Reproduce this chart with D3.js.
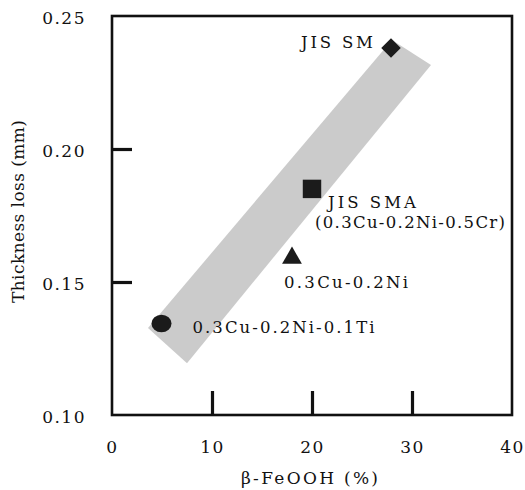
<!DOCTYPE html>
<html lang="en">
<head>
<meta charset="UTF-8" />
<title>Thickness loss vs beta-FeOOH</title>
<script src="https://d3js.org/d3.v7.min.js"></script>
<style>
  body { margin: 0; background: #fff; }
  text { font-family: "DejaVu Serif", serif; fill: #111; }
</style>
</head>
<body>
<div id="chart"></div>
<script>
// values
const steels = ["JIS SM", "JIS SMA", "0.3Cu-0.2Ni", "0.3Cu-0.2Ni-0.1Ti"];
const feooh = [27.9, 20.0, 18.0, 4.95];          // beta-FeOOH (%)
const loss = [0.238, 0.185, 0.159, 0.1344];      // thickness loss (mm)
const symbols = ["diamond", "square", "triangle", "circle"];

// grey band (corners, data units)
const bandX = [3.6, 28.0, 31.9, 7.5];
const bandY = [0.1327, 0.241, 0.2316, 0.1195];

const xLabels = [0, 10, 20, 30, 40];
const xMarks = [10, 20, 30];
const yLabels = [0.10, 0.15, 0.20, 0.25];
const yMarks = [0.15, 0.20];

const W = 525, H = 490;
const svg = d3.select("#chart").append("svg")
  .attr("width", W).attr("height", H);

const x = d3.scaleLinear().domain([0, 40]).range([112, 512]);
const y = d3.scaleLinear().domain([0.10, 0.25]).range([415, 16]);

// band
svg.append("path")
  .datum(bandX.map((v, i) => [x(v), y(bandY[i])]))
  .attr("d", d3.line().curve(d3.curveLinearClosed))
  .attr("fill", "#cbcbcb");

// frame
svg.append("rect")
  .attr("x", x(0)).attr("y", y(0.25))
  .attr("width", x(40) - x(0)).attr("height", y(0.10) - y(0.25))
  .attr("fill", "none").attr("stroke", "#111").attr("stroke-width", 2.6);

// inward tick marks
const xTick = svg.append("g")
  .attr("transform", `translate(0,${y(0.10)})`)
  .call(d3.axisBottom(x).tickValues(xMarks).tickSizeInner(-24).tickSizeOuter(0).tickFormat(""));
xTick.select(".domain").remove();
xTick.selectAll("line").attr("stroke", "#111").attr("stroke-width", 3.2);

const yTick = svg.append("g")
  .attr("transform", `translate(${x(0)},0)`)
  .call(d3.axisLeft(y).tickValues(yMarks).tickSizeInner(-20).tickSizeOuter(0).tickFormat(""));
yTick.select(".domain").remove();
yTick.selectAll("line").attr("stroke", "#111").attr("stroke-width", 3.2);

// tick labels
const xLab = svg.append("g")
  .attr("transform", `translate(0,${y(0.10)})`)
  .call(d3.axisBottom(x).tickValues(xLabels).tickSize(0).tickPadding(26).tickFormat(d3.format("d")));
xLab.select(".domain").remove();
xLab.selectAll("text").attr("font-size", 17).attr("letter-spacing", 1.5)
  .attr("font-family", "DejaVu Serif").attr("fill", "#111");

const yLab = svg.append("g")
  .attr("transform", `translate(${x(0)},0)`)
  .call(d3.axisLeft(y).tickValues(yLabels).tickSize(0).tickPadding(26).tickFormat(d3.format(".2f")));
yLab.select(".domain").remove();
yLab.selectAll("text").attr("font-size", 17).attr("letter-spacing", 1.5)
  .attr("font-family", "DejaVu Serif").attr("fill", "#111").attr("dy", "0.45em");

// axis titles
svg.append("text")
  .attr("x", 241).attr("y", 484)
  .attr("font-size", 17)
  .attr("textLength", 137).attr("lengthAdjust", "spacing")
  .text("β-FeOOH (%)");

svg.append("text")
  .attr("transform", "translate(24,303) rotate(-90)")
  .attr("font-size", 17)
  .attr("textLength", 183).attr("lengthAdjust", "spacing")
  .text("Thickness loss (mm)");

// markers
const shapes = {
  diamond: d3.symbol().type(d3.symbolSquare).size(190),
  square: d3.symbol().type(d3.symbolSquare).size(340),
  triangle: d3.symbol().type(d3.symbolTriangle).size(170),
  circle: d3.symbol().type(d3.symbolCircle).size(270)
};
svg.selectAll(".pt")
  .data(steels)
  .join("path")
  .attr("class", "pt")
  .attr("d", (d, i) => shapes[symbols[i]]())
  .attr("transform", (d, i) => {
    let t = `translate(${x(feooh[i])},${y(loss[i])})`;
    if (symbols[i] === "diamond") t += " rotate(45)";
    if (symbols[i] === "circle") t += " scale(1.08,0.95)";
    return t;
  })
  .attr("fill", "#1b1b1b");

// point labels (offsets in px from the marker, widths as printed)
const notes = [
  { text: "JIS SM", i: 0, dx: -90, dy: 0, w: 72 },
  { text: "JIS SMA", i: 1, dx: 16, dy: 19, w: 88 },
  { text: "(0.3Cu-0.2Ni-0.5Cr)", i: 1, dx: 3, dy: 39, w: 190 },
  { text: "0.3Cu-0.2Ni", i: 2, dx: -8, dy: 30, w: 124 },
  { text: "0.3Cu-0.2Ni-0.1Ti", i: 3, dx: 31, dy: 10, w: 182 }
];
svg.selectAll(".note")
  .data(notes)
  .join("text")
  .attr("class", "note")
  .attr("x", d => x(feooh[d.i]) + d.dx)
  .attr("y", d => y(loss[d.i]) + d.dy)
  .attr("font-size", 16.5)
  .attr("textLength", d => d.w).attr("lengthAdjust", "spacing")
  .text(d => d.text);
</script>
</body>
</html>
